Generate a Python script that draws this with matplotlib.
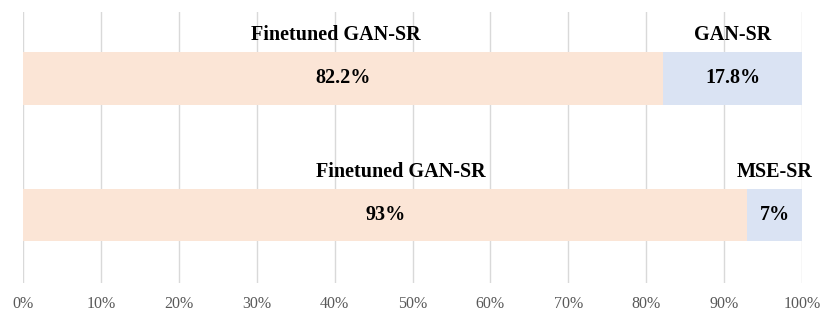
import matplotlib.pyplot as plt
from matplotlib.ticker import PercentFormatter

rows = [1, 0]
first_names = ['Finetuned GAN-SR', 'Finetuned GAN-SR']
second_names = ['GAN-SR', 'MSE-SR']
first_vals = [82.2, 93]
second_vals = [17.8, 7]
first_labels = ['82.2%', '93%']
second_labels = ['17.8%', '7%']

plt.rcParams['font.family'] = ['Liberation Serif', 'DejaVu Serif']

fig = plt.figure(figsize=(8.3, 3.17), dpi=100)
ax = fig.add_axes([23 / 830, 1 - 283 / 317, 779 / 830, 271 / 317])

h = 0.388
ax.barh(rows, first_vals, height=h, color='#FBE5D6', zorder=2)
ax.barh(rows, second_vals, left=first_vals, height=h, color='#DAE3F3', zorder=2)

for i, y in enumerate(rows):
    c1 = first_vals[i] / 2
    c2 = first_vals[i] + second_vals[i] / 2
    ax.text(c1, y, first_labels[i], ha='center', va='center', fontsize=14.5, fontweight='bold', zorder=3)
    ax.text(c2, y, second_labels[i], ha='center', va='center', fontsize=14.5, fontweight='bold', zorder=3)
    dx = -1 if i == 0 else 2
    ax.text(c1 + dx, y + h / 2 + 0.05, first_names[i], ha='center', va='bottom', fontsize=14.5, fontweight='bold', zorder=3)
    ax.text(c2, y + h / 2 + 0.05, second_names[i], ha='center', va='bottom', fontsize=14.5, fontweight='bold', zorder=3)

ax.set_xlim(0, 100)
ax.set_ylim(-0.498, 1.487)
ax.set_xticks(range(0, 101, 10))
ax.xaxis.set_major_formatter(PercentFormatter(decimals=0))
ax.set_yticks([])
ax.grid(axis='x', color='#D9D9D9', linewidth=1, zorder=0)
for s in ax.spines.values():
    s.set_visible(False)
ax.tick_params(axis='x', length=0, pad=9, labelsize=11.5, labelcolor='#595959')

fig.savefig('out.png', dpi=100)
